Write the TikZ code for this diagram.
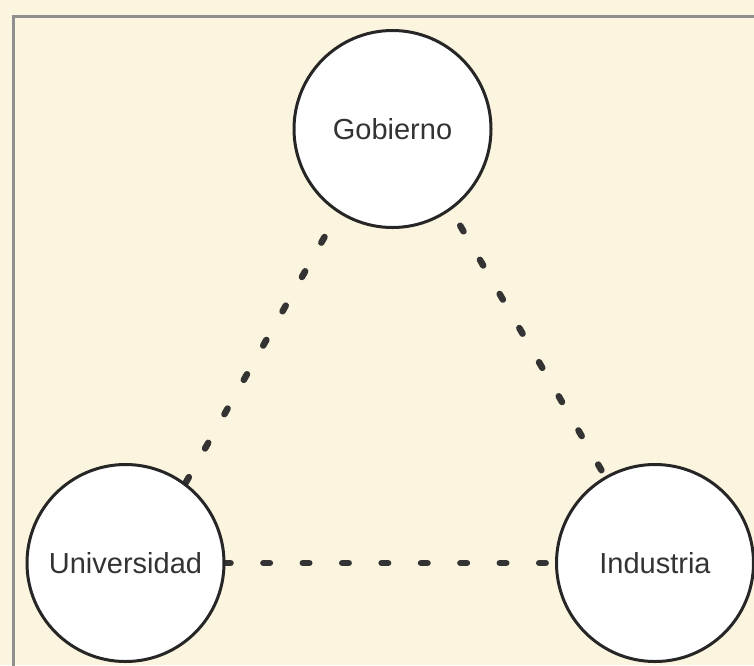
\documentclass[tikz,border=0pt]{standalone}
\usepackage{fontspec}
\setmainfont{Liberation Sans}
\pgfdeclarelayer{bgl}
\pgfdeclarelayer{edges}
\pgfsetlayers{bgl,edges,main}
\definecolor{paper}{HTML}{FBF4DE}
\definecolor{frame}{HTML}{8F8F8F}
\definecolor{ink}{HTML}{262626}
\definecolor{dashc}{HTML}{333333}
\definecolor{txt}{HTML}{333333}
\tikzset{
  actor/.style={circle, draw=ink, line width=3pt, fill=white, minimum size=197pt,
    inner sep=0pt, outer sep=0pt, font=\fontsize{29}{35}\selectfont, text=txt},
  link/.style={draw=dashc, line width=6.5pt, line cap=round,
    dash pattern=on 6.5pt off 32.9pt}
}
\begin{document}
\begin{tikzpicture}[x=1pt,y=-1pt]
\useasboundingbox (0,0) rectangle (754,665);
\begin{pgfonlayer}{bgl}
  \fill[paper] (0,0) rectangle (754,665);
  \begin{scope}
    \clip (0,0) rectangle (754,665);
    \draw[frame, line width=3pt] (13.5,700) -- (13.5,16.5) -- (800,16.5);
  \end{scope}
\end{pgfonlayer}
\node[actor] (G) at (392.5,129) {Gobierno};
\node[actor] (U) at (125.5,563) {Universidad};
\node[actor] (I) at (655,563) {Industria};
\begin{pgfonlayer}{edges}
  \draw[link, dash phase=10.25pt] (G.237.3) -- (U.53.5);
  \draw[link, dash phase=19.75pt] (G.306.1) -- (I.120);
  \draw[link, dash phase=0pt] (U) -- (I);
\end{pgfonlayer}
\end{tikzpicture}
\end{document}
